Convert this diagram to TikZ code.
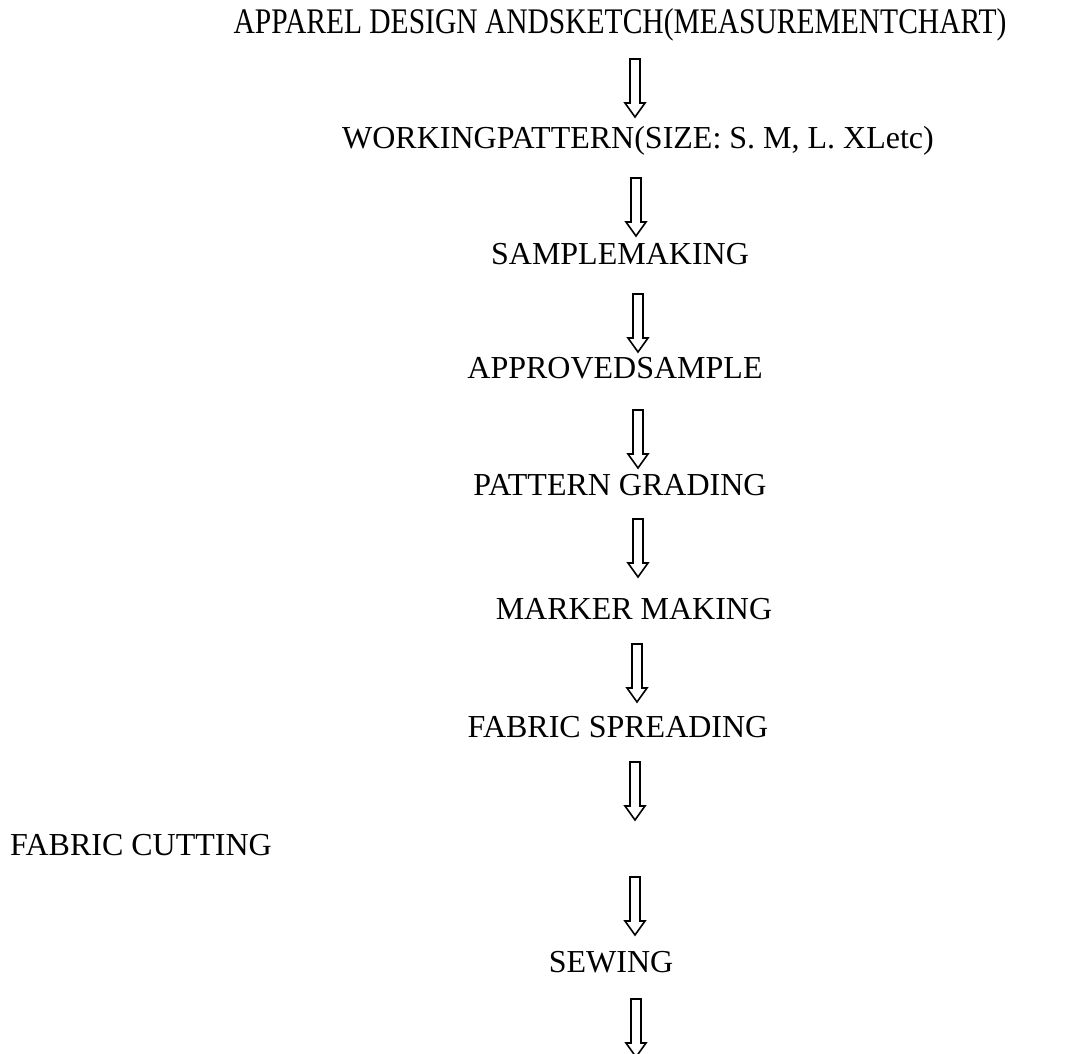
\documentclass[tikz,border=0pt]{standalone}
\usepackage{graphicx,fontspec,tikz}
\setmainfont{Liberation Serif}

\begin{document}
\begin{tikzpicture}[x=1pt,y=-1pt,
		stage/.style={anchor=base,inner sep=0pt,font=\fontsize{32}{38}\selectfont}]
		\useasboundingbox (0,0) rectangle (1077,1053);
		\node[stage] (design) at (620,33) {\scalebox{0.82}[1]{\fontsize{36}{40}\selectfont APPAREL DESIGN ANDSKETCH(MEASUREMENTCHART)}};
		\node[stage] (working) at (638,148) {WORKINGPATTERN(SIZE: S. M, L. XLetc)};
		\node[stage] (sample) at (620,264) {SAMPLEMAKING};
		\node[stage] (approved) at (615,378) {APPROVEDSAMPLE};
		\node[stage] (grading) at (620,495) {PATTERN GRADING};
		\node[stage] (marker) at (634,619) {MARKER MAKING};
		\node[stage] (spreading) at (618,737) {FABRIC SPREADING};
		\node[stage,anchor=base west] (cutting) at (10,855) {FABRIC CUTTING};
		\node[stage] (sewing) at (611,972) {SEWING};
		\foreach \x/\y in {635/59,636/178,638/294,638/410,638/519,637/644,635/762,635/877,636/999}
			\draw[line width=1.6pt] (\x-5,\y)--(\x+5,\y)--(\x+5,\y+44)--(\x+10,\y+44)--(\x,\y+58)--(\x-10,\y+44)--(\x-5,\y+44)--cycle;
	\end{tikzpicture}
\end{document}
